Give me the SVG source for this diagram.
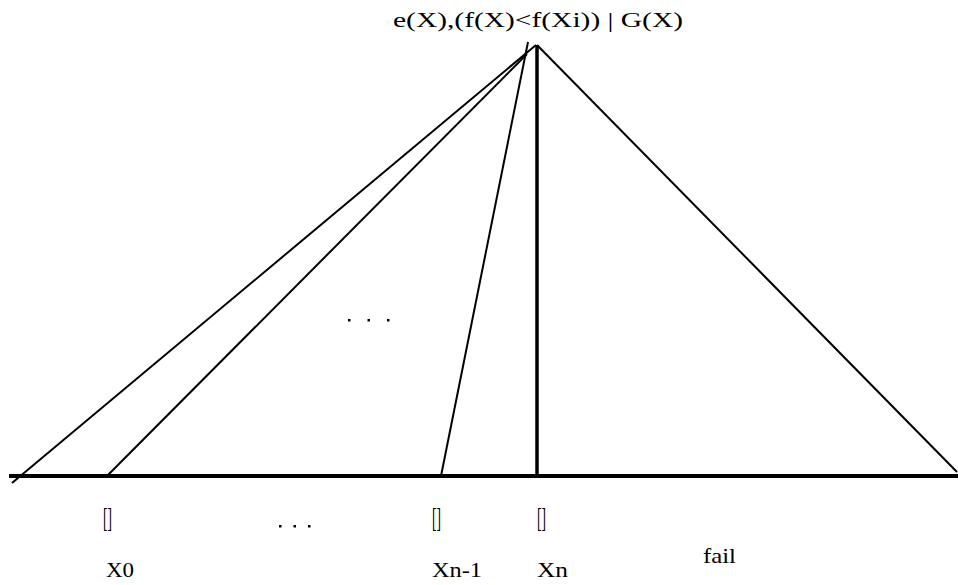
<svg xmlns="http://www.w3.org/2000/svg" width="958" height="585" viewBox="0 0 958 585">
<style>
.t{font-family:"Liberation Serif","DejaVu Serif",serif;font-size:21px;fill:#000}
.br{font-family:"Liberation Serif","DejaVu Serif",serif;font-size:27px;fill:#000}
.ln{stroke:#000;fill:none;stroke-linecap:butt}
.dot{fill:#000}
</style>
<rect width="958" height="585" fill="#fff"/>
<g id="connectors">
<line class="ln" x1="9" y1="476" x2="958" y2="476" stroke-width="4"/>
<line class="ln" x1="537" y1="45" x2="537" y2="476" stroke-width="3.5"/>
<line class="ln" x1="537" y1="45" x2="957" y2="472" stroke-width="2"/>
<line class="ln" x1="12" y1="483" x2="536" y2="45" stroke-width="2"/>
<line class="ln" x1="107" y1="476" x2="527" y2="54" stroke-width="2"/>
<line class="ln" x1="441" y1="476" x2="528" y2="42" stroke-width="2"/>
</g>
<g id="root-label"><text class="t" x="393" y="27" textLength="290" lengthAdjust="spacingAndGlyphs">e(X),(f(X)&lt;f(Xi)) | G(X)</text></g>
<g id="mid-dots"><rect class="dot" x="348" y="319" width="2.5" height="2.5"/><rect class="dot" x="367.5" y="319" width="2.5" height="2.5"/><rect class="dot" x="387" y="319" width="2.5" height="2.5"/></g>
<g id="leaf-x0"><text class="br" x="103" y="527" textLength="9" lengthAdjust="spacingAndGlyphs">[]</text><text class="t" x="106" y="577" textLength="28" lengthAdjust="spacingAndGlyphs">X0</text></g>
<g id="leaf-dots"><rect class="dot" x="279" y="525" width="2.5" height="2.5"/><rect class="dot" x="293.5" y="525" width="2.5" height="2.5"/><rect class="dot" x="308" y="525" width="2.5" height="2.5"/></g>
<g id="leaf-xn1"><text class="br" x="432" y="527" textLength="9" lengthAdjust="spacingAndGlyphs">[]</text><text class="t" x="432" y="577" textLength="50" lengthAdjust="spacingAndGlyphs">Xn-1</text></g>
<g id="leaf-xn"><text class="br" x="537" y="527" textLength="9" lengthAdjust="spacingAndGlyphs">[]</text><text class="t" x="537" y="577" textLength="31" lengthAdjust="spacingAndGlyphs">Xn</text></g>
<g id="leaf-fail"><text class="t" x="703" y="563" textLength="33" lengthAdjust="spacingAndGlyphs">fail</text></g>
</svg>
